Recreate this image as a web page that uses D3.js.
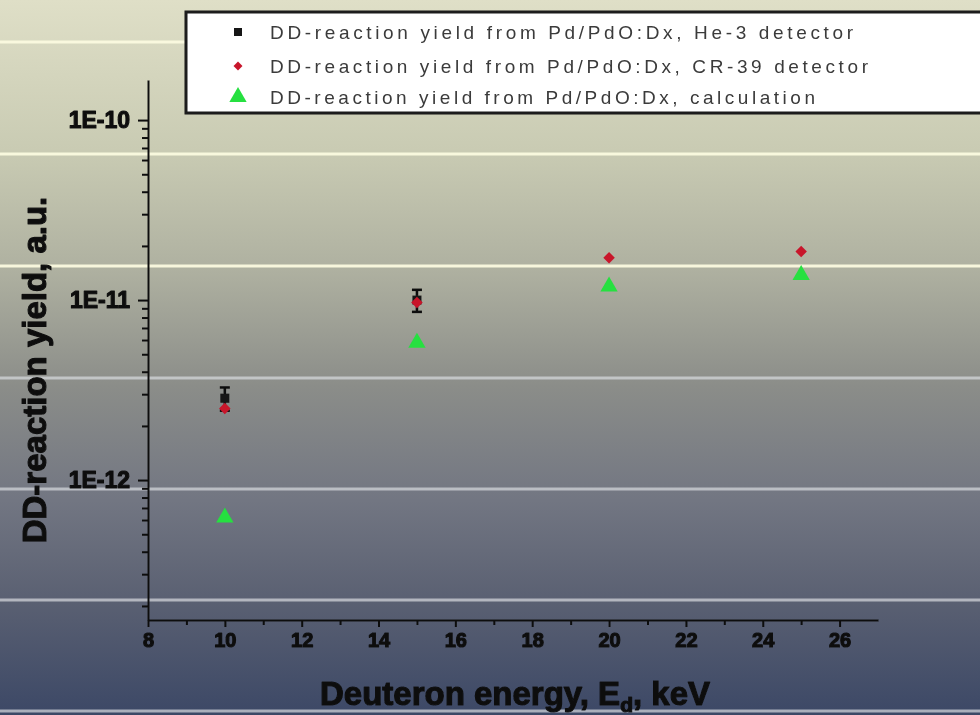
<!DOCTYPE html>
<html>
<head>
<meta charset="utf-8">
<script src="https://cdn.jsdelivr.net/npm/d3@7"></script>
<style>
  body { margin: 0; background: #8a8c88; }
  svg { display: block; }
</style>
</head>
<body>
<script>
var WIDTH = 980;
var HEIGHT = 715;

// data
var he3Energy = [10, 15];
var he3Yield = [2.85e-12, 1.0e-11];
var he3Err = [0.42e-12, 1.4e-12];

var cr39Energy = [10, 15, 20, 25];
var cr39Yield = [2.5e-12, 9.7e-12, 1.72e-11, 1.86e-11];

var calcEnergy = [10, 15, 20, 25];
var calcYield = [6.2e-13, 5.8e-12, 1.19e-11, 1.38e-11];

var xTickValues = [8, 10, 12, 14, 16, 18, 20, 22, 24, 26];
var yTickValues = [1e-10, 1e-11, 1e-12];
var yTickLabels = ['1E-10', '1E-11', '1E-12'];

var legendLabels = [
    'DD-reaction yield from Pd/PdO:Dx, He-3 detector',
    'DD-reaction yield from Pd/PdO:Dx, CR-39 detector',
    'DD-reaction yield from Pd/PdO:Dx, calculation'
];

var FONT = '"Liberation Sans", Arial, sans-serif';

var x = d3.scaleLinear()
    .domain([8, 27])
    .range([148, 878]);

var y = d3.scaleLog()
    .domain([1.67e-13, 1.67e-10])
    .range([620, 80]);

var svg = d3.select('body')
    .append('svg')
    .attr('width', WIDTH)
    .attr('height', HEIGHT);

var defs = svg.append('defs');

var bg = defs.append('linearGradient')
    .attr('id', 'bg')
    .attr('x1', 0).attr('y1', 0)
    .attr('x2', 0).attr('y2', 1);
[[0, '#dfdfc7'], [0.21, '#c9cbb3'], [0.38, '#aeb0a0'], [0.54, '#8b8d89'],
 [0.7, '#727682'], [0.84, '#5a6072'], [1, '#3c4866']].forEach(function (s) {
    bg.append('stop').attr('offset', s[0]).attr('stop-color', s[1]);
});

defs.append('filter')
    .attr('id', 'soft')
    .append('feGaussianBlur')
    .attr('stdDeviation', 0.6);

svg.append('rect')
    .attr('width', WIDTH)
    .attr('height', HEIGHT)
    .attr('fill', 'url(#bg)');

// the horizontal light bands of the slide background
var bandYs = [42, 154, 266, 378, 489, 600, 711];
svg.selectAll('.band')
    .data(bandYs)
    .enter()
    .append('line')
    .attr('class', 'band')
    .attr('x1', 0).attr('x2', WIDTH)
    .attr('y1', function (d) { return d; })
    .attr('y2', function (d) { return d; })
    .attr('stroke', function (d, i) { return i < 3 ? '#fbfadf' : '#d8dce0'; })
    .attr('stroke-opacity', function (d, i) { return i < 3 ? 0.95 : 0.7; })
    .attr('stroke-width', 3);

var chart = svg.append('g').attr('filter', 'url(#soft)');

// heavy, smudged lettering like the original slide
var heavy = function (sel, size) {
    sel.style('font-family', FONT)
        .style('font-weight', 'bold')
        .style('font-size', size)
        .attr('fill', '#111')
        .attr('stroke', '#111')
        .attr('stroke-width', 1.1)
        .attr('stroke-linejoin', 'round');
};

// x axis: labelled even values, small ticks between them
var xMinor = d3.range(9, 27, 2);
chart.append('g')
    .attr('transform', 'translate(0,620)')
    .call(d3.axisBottom(x).tickValues(xMinor).tickSize(5).tickFormat(''))
    .call(function (g) { g.select('.domain').remove(); });

var xAxis = chart.append('g')
    .attr('transform', 'translate(0,620)')
    .call(d3.axisBottom(x).tickValues(xTickValues).tickSize(7).tickSizeOuter(0).tickPadding(6));

xAxis.selectAll('text').call(heavy, '20px');

// y axis: log decades with minor ticks
var yMinor = [];
[1e-13, 1e-12, 1e-11, 1e-10].forEach(function (dec) {
    d3.range(2, 10).forEach(function (m) {
        var v = dec * m;
        if (v >= y.domain()[0] && v <= y.domain()[1]) yMinor.push(v);
    });
});

chart.append('g')
    .attr('transform', 'translate(148,0)')
    .call(d3.axisLeft(y).tickValues(yMinor).tickSize(6).tickFormat(''))
    .call(function (g) { g.select('.domain').remove(); });

var yAxis = chart.append('g')
    .attr('transform', 'translate(148,0)')
    .call(d3.axisLeft(y).tickValues(yTickValues).tickSize(10).tickSizeOuter(0).tickPadding(8)
        .tickFormat(function (d, i) { return yTickLabels[i]; }));

yAxis.selectAll('text').call(heavy, '23px');

chart.selectAll('.domain, .tick line')
    .attr('stroke', '#111')
    .attr('stroke-width', 2);

// axis titles
var xTitle = chart.append('text')
    .attr('x', 515)
    .attr('y', 705)
    .attr('text-anchor', 'middle')
    .call(heavy, '33px');
xTitle.append('tspan').text('Deuteron energy, E');
xTitle.append('tspan').attr('dy', 7).style('font-size', '21px').text('d');
xTitle.append('tspan').attr('dy', -7).text(', keV');

chart.append('text')
    .attr('transform', 'translate(46,370) rotate(-90)')
    .attr('text-anchor', 'middle')
    .call(heavy, '33px')
    .text('DD-reaction yield, a.u.');

// series
var he3 = he3Energy.map(function (e, i) { return { e: e, v: he3Yield[i], err: he3Err[i] }; });
var cr39 = cr39Energy.map(function (e, i) { return { e: e, v: cr39Yield[i] }; });
var calc = calcEnergy.map(function (e, i) { return { e: e, v: calcYield[i] }; });

var calcSymbol = d3.symbol().type(d3.symbolTriangle).size(130);
var cr39Symbol = d3.symbol().type(d3.symbolSquare).size(66);

chart.selectAll('.calc')
    .data(calc)
    .enter()
    .append('path')
    .attr('class', 'calc')
    .attr('transform', function (d) { return 'translate(' + x(d.e) + ',' + y(d.v) + ')'; })
    .attr('d', calcSymbol)
    .attr('fill', '#26e040');

var errBars = chart.selectAll('.err')
    .data(he3)
    .enter()
    .append('g')
    .attr('class', 'err')
    .attr('stroke', '#111')
    .attr('stroke-width', 2.5);

errBars.append('line')
    .attr('x1', function (d) { return x(d.e); })
    .attr('x2', function (d) { return x(d.e); })
    .attr('y1', function (d) { return y(d.v + d.err); })
    .attr('y2', function (d) { return y(d.v - d.err); });
errBars.append('line')
    .attr('x1', function (d) { return x(d.e) - 5; })
    .attr('x2', function (d) { return x(d.e) + 5; })
    .attr('y1', function (d) { return y(d.v + d.err); })
    .attr('y2', function (d) { return y(d.v + d.err); });
errBars.append('line')
    .attr('x1', function (d) { return x(d.e) - 5; })
    .attr('x2', function (d) { return x(d.e) + 5; })
    .attr('y1', function (d) { return y(d.v - d.err); })
    .attr('y2', function (d) { return y(d.v - d.err); });

chart.selectAll('.he3')
    .data(he3)
    .enter()
    .append('rect')
    .attr('class', 'he3')
    .attr('x', function (d) { return x(d.e) - 4.5; })
    .attr('y', function (d) { return y(d.v) - 4.5; })
    .attr('width', 9)
    .attr('height', 9)
    .attr('fill', '#141414');

chart.selectAll('.cr39')
    .data(cr39)
    .enter()
    .append('path')
    .attr('class', 'cr39')
    .attr('transform', function (d) { return 'translate(' + x(d.e) + ',' + y(d.v) + ') rotate(45)'; })
    .attr('d', cr39Symbol)
    .attr('fill', '#c8142c');

// legend
var legend = svg.append('g').attr('filter', 'url(#soft)');
legend.append('rect')
    .attr('x', 186)
    .attr('y', 12)
    .attr('width', 810)
    .attr('height', 101)
    .attr('fill', '#ffffff')
    .attr('stroke', '#1a1a1a')
    .attr('stroke-width', 3);

var legendRowY = [32, 66, 97];
var legendTextLen = [583, 598, 545];

var rows = legend.selectAll('.legend-row')
    .data(legendLabels)
    .enter()
    .append('g')
    .attr('class', 'legend-row')
    .attr('transform', function (d, i) { return 'translate(0,' + legendRowY[i] + ')'; });

rows.append('text')
    .attr('x', 270)
    .attr('dy', '0.36em')
    .attr('textLength', function (d, i) { return legendTextLen[i]; })
    .attr('lengthAdjust', 'spacing')
    .style('font-family', FONT)
    .style('font-size', '19px')
    .attr('fill', '#3a3a3a')
    .text(function (d) { return d; });

rows.filter(function (d, i) { return i === 0; })
    .append('rect')
    .attr('x', 234).attr('y', -4)
    .attr('width', 8).attr('height', 8)
    .attr('fill', '#141414');
rows.filter(function (d, i) { return i === 1; })
    .append('path')
    .attr('transform', 'translate(238,0) rotate(45)')
    .attr('d', d3.symbol().type(d3.symbolSquare).size(40))
    .attr('fill', '#c8142c');
rows.filter(function (d, i) { return i === 2; })
    .append('path')
    .attr('transform', 'translate(238,0)')
    .attr('d', calcSymbol)
    .attr('fill', '#26e040');
</script>
</body>
</html>
